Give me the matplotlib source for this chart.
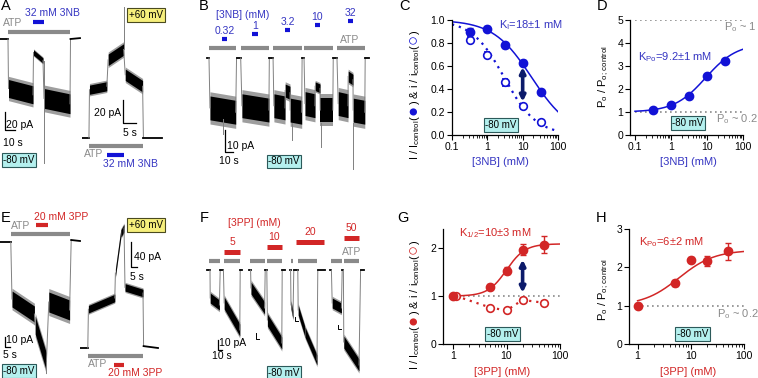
import numpy as np
import matplotlib
matplotlib.use('Agg')
import matplotlib.pyplot as plt
from matplotlib.ticker import FixedLocator, NullFormatter

plt.rcParams['font.family'] = ['Liberation Sans', 'DejaVu Sans']
plt.rcParams['mathtext.fontset'] = 'custom'
plt.rcParams['mathtext.rm'] = 'Liberation Sans'
plt.rcParams['mathtext.it'] = 'Liberation Sans:italic'
plt.rcParams['font.size'] = 7.5

W, H = 758, 378
BLUE = '#1212d6'
BLUE_TXT = '#3535c2'
RED = '#d22626'
GRAY = '#8a8a8a'
NAVY = '#0c1a6a'
CYAN_BOX = dict(boxstyle='square,pad=0.18', fc='#b4f0ee', ec='#2c5a5a', lw=0.8)
YEL_BOX = dict(boxstyle='square,pad=0.18', fc='#f6ef7c', ec='#4a4a20', lw=0.8)

# ---- trace data: (t start s, t end s, level start pA, level end pA, noise half width pA) ----
a1_segs = [(0, 8, 0, 0, 0), (8.5, 33, -55, -62, 10), (33.5, 43, -15, -24, 3),
           (44, 70, -66, -72, 11), (70.5, 80, 0, 1, 0)]
a1_spikes = [(43.5, -24, -138)]
a1_atp = (8, 70)
a1_drug = (33, 44)

a2_segs = [(0, 2.6, 0, 0, 0), (2.8, 9.3, 42, 45, 4), (9.8, 15.6, 68, 77, 5),
           (16.2, 22.7, 55, 45, 5), (23.0, 30, 0, 0, 0)]
a2_spikes = [(15.8, 77, 114)]
a2_atp = (2.6, 22.8)
a2_drug = (9.4, 15.7)

b_segs = [(2, 4.8, 0, 0, 0), (6, 37, -23, -25, 5.5), (38, 43, 0, 0, 0),
          (44.5, 77, -22, -24, 5.5), (77.5, 82, 0, 0, 0),
          (83, 96.4, -22, -23, 5.5), (96.6, 102.4, -15, -16, 3), (102.6, 116.5, -24, -25, 5.5),
          (117, 119.3, 0, 0, 0),
          (120.5, 132.5, -21, -22, 5.5), (132.7, 138.6, -13, -14, 2), (138.8, 154, -24, -24, 5.5),
          (154.5, 159, 0, 0, 0),
          (160.5, 172.3, -21, -22, 5.5), (172.5, 178.3, -8.5, -10, 2.5), (178.5, 192.5, -24, -25, 5.5),
          (193, 197, 0, 0, 0)]
b_spikes = [(21.7, -28, -35), (105, -30, -38), (140, -30, -41), (178.6, -30, -51)]
b_atp = [(4.8, 37.3), (43.4, 77.1), (81.9, 116.9), (119.3, 154.2), (159.0, 192.8)]
b_drug = [(20.5, 26.5), (56.6, 63.9), (96.4, 102.4), (132.5, 138.6), (172.3, 178.3)]
b_drug_y = [8.8, 11.1, 12.9, 15.2, 17.1]
b_labels = ['0.32', '1', '3.2', '10', '32']

e1_segs = [(0, 13.5, 0, 0, 0), (15, 43, -57, -72, 8), (44, 58, -83, -120, 9),
           (61, 87, -60, -68, 10), (89, 100, 2, 1, 0)]
e1_spikes = [(57.5, -120, -131)]
e1_atp = (13.8, 87.5)
e1_drug = (45, 60)

e2_segs = [(0, 6.5, 0, 0, 0), (7, 29, 62, 80, 6), (29.5, 34, 120, 183, 6),
           (34, 36.7, 183, 192, 6), (37.5, 52.5, 97, 88, 6), (53, 65, 3, 0, 0)]
e2_spikes = []
e2_atp = (6.7, 52.5)
e2_drug = (28.3, 36.7)

f_pieces = [
    [(5, 12.5, 0, 0, 0), (13, 36, -28, -35, 5), (38, 46, 0, 0, 0), (48, 87, -33, -60, 6), (88, 92, 0, 0, 0)],
    [(110, 114, 0, 0, 0), (115, 149, -18, -38, 6), (150.5, 154.5, 0, 0, 0), (156, 192, -50, -73, 6),
     (193, 200, 0, 0, 0)],
    [(212, 214, 0, 0, 0), (215, 220, -35, -45, 4), (222, 232, 0, 0, 0), (233, 250, -40, -62, 5),
     (250, 280, -62, -90, 5), (282, 300, 0, 0, 0)],
    [(312, 316, 0, 0, 0), (318, 341, -33, -38, 5), (343, 346, 0, 0, 0), (347, 385, -72, -95, 6),
     (389, 397, 0, 0, 0)],
]
f_atp = [(10, 37.5), (47.5, 87.5), (112.5, 150), (155, 192.5), (215, 220), (232.5, 280),
         (315, 342.5), (347.5, 385)]
f_drug = [(47.5, 87.5), (155, 192.5), (227.5, 297.5), (347.5, 385)]
f_drug_y = [18, 23, 28, 32]
f_labels = ['5', '10', '20', '50']
f_minis = [(127.5, -63, 6), (225, -47, 4), (332.5, -55, 4)]

# ---- dose-response data ----
nb_conc = [0.32, 1, 3.2, 10, 32]
c_I = [0.90, 0.925, 0.78, 0.63, 0.375]
c_I_err = [0.03, 0.02, 0.02, 0.02, 0.02]
c_i = [0.83, 0.70, 0.46, 0.25, 0.11]
c_i_err = [0.02, 0.02, 0.03, 0.02, 0.02]
c_KI, c_nI = 18.0, 0.8
c_Ki, c_ni = 3.0, 0.95

d_po = [1.08, 1.30, 1.68, 2.55, 3.22]
d_po_err = [0.05, 0.06, 0.07, 0.08, 0.10]
d_K, d_amp = 9.2, 2.98

pp_conc = [1, 5, 10, 20, 50]
pp_conc_open = [1.15, 5, 10, 20, 50]
g_I = [1.0, 1.2, 1.53, 1.97, 2.07]
g_I_err = [0.03, 0.06, 0.07, 0.12, 0.18]
g_i = [1.0, 0.76, 0.70, 0.92, 0.86]
g_i_err = [0.03, 0.04, 0.03, 0.04, 0.04]
g_K, g_n, g_amp = 10.0, 2.5, 1.09

h_po = [1.0, 1.6, 2.2, 2.17, 2.42]
h_po_err = [0.03, 0.08, 0.06, 0.13, 0.22]
h_K, h_n, h_amp = 6.0, 1.3, 1.45

fig = plt.figure(figsize=(W / 100, H / 100), dpi=100)


def ptext(x, y, s, **kw):
    kw.setdefault('ha', 'center')
    kw.setdefault('va', 'center')
    return fig.text(x / W, 1 - y / H, s, **kw)


def trace_axes(left, top, width, height, px_s, px_pa, base_py):
    ax = fig.add_axes([left / W, 1 - (top + height) / H, width / W, height / H])
    i_top = (base_py - top) / px_pa
    ax.set_xlim(0, width / px_s)
    ax.set_ylim(i_top - height / px_pa, i_top)
    ax.set_axis_off()
    return ax


def draw_trace(ax, segs, spikes=()):
    prev = None
    for t0, t1, l0, l1, hw in segs:
        if prev is not None:
            ax.plot([prev[0], t0], [prev[1], l0], color='0.5', lw=0.7)
        if hw > 0:
            ax.fill_between([t0, t1], [l0 - 1.35 * hw, l1 - 1.35 * hw], [l0 + 1.35 * hw, l1 + 1.35 * hw],
                            color='0.62', lw=0)
            ax.fill_between([t0, t1], [l0 - hw, l1 - hw], [l0 + hw, l1 + hw], color='k', lw=0)
        else:
            ax.plot([t0, t1], [l0, l1], color='k', lw=1.3)
        prev = (t1, l1)
    for t, a, b in spikes:
        ax.plot([t, t], [a, b], color='0.5', lw=0.7)


def app_bar(ax, t0, t1, y, color, lw=3):
    ax.plot([t0, t1], [y, y], color=color, lw=lw, solid_capstyle='butt', clip_on=False)


def scale_bar(ax, t, i, dt, di):
    ax.plot([t, t, t + dt], [i + di, i, i], color='k', lw=0.9, clip_on=False)


def vrich(x, yc, pieces, size=8):
    r = fig.canvas.get_renderer()
    objs = [fig.text(0, 0, s, color=c, fontsize=fs or size, rotation=90, rotation_mode='anchor',
                     ha='left', va='baseline') for s, c, fs in pieces]
    lens = [t.get_window_extent(r).height for t in objs]
    y = yc + sum(lens) / 2
    for t, L in zip(objs, lens):
        t.set_position((x / W, 1 - y / H))
        y -= L


def dose_axes(left, top, width, height, xlim, ylim, yticks, yfmt, xmaj):
    ax = fig.add_axes([left / W, 1 - (top + height) / H, width / W, height / H])
    ax.set_xscale('log')
    ax.set_xlim(*xlim)
    ax.set_ylim(*ylim)
    for s in ('top', 'right'):
        ax.spines[s].set_visible(False)
    for s in ('left', 'bottom'):
        ax.spines[s].set_linewidth(0.9)
    ax.set_yticks(yticks)
    ax.set_yticklabels([yfmt % v for v in yticks])
    ax.xaxis.set_major_locator(FixedLocator(xmaj))
    ax.set_xticklabels(['%g' % v for v in xmaj])
    minors = [m * d for d in xmaj[:-1] for m in range(2, 10)]
    ax.xaxis.set_minor_locator(FixedLocator(minors))
    ax.xaxis.set_minor_formatter(NullFormatter())
    ax.tick_params(direction='out', length=3.5, width=0.8, labelsize=7.5, pad=1.5)
    ax.tick_params(which='minor', length=2, width=0.6)
    ax.patch.set_alpha(0)
    return ax


# ================= A =================
ax = trace_axes(0, 25, 82, 145, 1.0, 0.9, 39)
draw_trace(ax, a1_segs, a1_spikes)
app_bar(ax, *a1_atp, 7.8, GRAY)
app_bar(ax, *a1_drug, 19, BLUE)
scale_bar(ax, 5, -101, 10, 20)
ax.text(6.5, -95, '20 pA', ha='left', va='center')
ax.text(3, -116, '10 s', ha='left', va='center')

ax = trace_axes(82, 0, 83, 170, 2.67, 1.15, 138)
draw_trace(ax, a2_segs, a2_spikes)
app_bar(ax, *a2_atp, -7, GRAY)
app_bar(ax, *a2_drug, -14.8, BLUE)
scale_bar(ax, 15.4, 13, 5, 20)
ax.text(14.6, 21.7, '20 pA', ha='right', va='center')
ax.text(15.4, 4.3, '5 s', ha='left', va='center')

ptext(1, 6, 'A', fontsize=10.5, ha='left')
ptext(13, 23, 'ATP', color=GRAY)
ptext(52, 13, '32 mM 3NB', color=BLUE_TXT)
ptext(19, 160, '-80 mV', fontsize=7, bbox=CYAN_BOX)
ptext(146, 15, '+60 mV', fontsize=7, bbox=YEL_BOX)
ptext(94, 154, 'ATP', color=GRAY)
ptext(130, 164, '32 mM 3NB', color=BLUE_TXT)

# ================= B =================
ax = trace_axes(205, 10, 165, 165, 0.83, 2.17, 58)
draw_trace(ax, b_segs, b_spikes)
for t0, t1 in b_atp:
    app_bar(ax, t0, t1, 4.6, GRAY)
for (t0, t1), y, lab in zip(b_drug, b_drug_y, b_labels):
    app_bar(ax, t0, t1, y, BLUE)
    ax.text((t0 + t1) / 2, y + 3.7, lab, color=BLUE_TXT, ha='center', va='center')
scale_bar(ax, 24.1, -43.3, 10, 10.1)
ax.text(26.5, -40.6, '10 pA', ha='left', va='center')
ax.text(16.9, -47.5, '10 s', ha='left', va='center')
ptext(204, 6, 'B', fontsize=10.5)
ptext(243, 15, '[3NB] (mM)', color=BLUE_TXT)
ptext(350, 40, 'ATP', color=GRAY)
ptext(284, 161.5, '-80 mV', fontsize=7, bbox=CYAN_BOX)

# ================= C =================
ax = dose_axes(452, 20, 106, 115, (0.1, 100), (0, 1.0), [0, 0.2, 0.4, 0.6, 0.8, 1.0], '%.1f',
               [0.1, 1, 10, 100])
xf = np.logspace(-1, 2, 200)
ax.plot(xf, 1 / (1 + (xf / c_KI) ** c_nI), color=BLUE, lw=1.1)
ax.plot(xf, 1 / (1 + (xf / c_Ki) ** c_ni), color=BLUE, lw=1.6, ls=(0, (1, 2.2)))
ax.errorbar(nb_conc, c_i, yerr=c_i_err, fmt='o', ms=5.5, mfc='white', mec=BLUE, mew=1.2,
            ecolor=BLUE, elinewidth=1, capsize=2.5, capthick=1, zorder=4)
ax.errorbar(nb_conc, c_I, yerr=c_I_err, fmt='o', ms=6, color=BLUE, elinewidth=1,
            capsize=2.5, capthick=1, zorder=5)
ax.annotate('', xy=(10, 0.29), xytext=(10, 0.59),
            arrowprops=dict(arrowstyle='<|-|>', color=NAVY, lw=2.6, mutation_scale=8,
                            shrinkA=0, shrinkB=0))
ptext(404, 6, 'C', fontsize=10.5)
ptext(531, 25, 'K$_\\mathrm{I}$=18±1 mM', color=BLUE_TXT, fontsize=8)
ptext(501, 125, '-80 mV', fontsize=7, bbox=CYAN_BOX)
ptext(500, 162, '[3NB] (mM)', color=BLUE_TXT, fontsize=8)
vrich(418, 95, [('I / I$_\\mathrm{control}$(', 'k', None), ('●', BLUE, 12),
                (') & i / i$_\\mathrm{control}$(', 'k', None), ('○', BLUE, 12), (')', 'k', None)])

# ================= D =================
ax = dose_axes(630, 20, 113, 115, (0.0726, 100), (0, 5), [0, 1, 2, 3, 4, 5], '%d',
               [0.1, 1, 10, 100])
ax.plot([0.1, 100], [5, 5], color=GRAY, lw=1.2, ls=(0, (1, 2)))
ax.plot([0.1, 100], [1, 1], color=GRAY, lw=1.2, ls=(0, (1, 2)))
ax.plot(xf, 1 + d_amp * xf / (xf + d_K), color=BLUE, lw=1.1)
ax.errorbar(nb_conc, d_po, yerr=d_po_err, fmt='o', ms=6, color=BLUE, elinewidth=1,
            capsize=2.5, capthick=1, zorder=5)
ptext(602, 6, 'D', fontsize=10.5)
ptext(675, 57, 'K$_\\mathrm{Po}$=9.2±1 mM', color=BLUE_TXT, fontsize=8)
ptext(740, 27, 'P$_\\mathrm{o}$ ~ 1', color=GRAY, fontsize=8)
ptext(737, 119, 'P$_\\mathrm{o}$ ~ 0.2', color=GRAY, fontsize=8)
ptext(688, 123, '-80 mV', fontsize=7, bbox=CYAN_BOX)
ptext(688, 162, '[3NB] (mM)', color=BLUE_TXT, fontsize=8)
vrich(606, 77, [('P$_\\mathrm{o}$ / P$_\\mathrm{o;\\,control}$', 'k', None)])

# ================= E =================
ax = trace_axes(0, 212, 82, 166, 0.8, 1.0, 242)
draw_trace(ax, e1_segs, e1_spikes)
app_bar(ax, *e1_atp, 8, GRAY)
app_bar(ax, *e1_drug, 17, RED)
scale_bar(ax, 6.25, -105, 6.25, 10)
ax.text(7.5, -98, '10 pA', ha='left', va='center')
ax.text(3.75, -113, '5 s', ha='left', va='center')

ax = trace_axes(80, 212, 83, 166, 1.2, 0.625, 348)
draw_trace(ax, e2_segs, e2_spikes)
app_bar(ax, *e2_atp, -12.8, GRAY)
app_bar(ax, *e2_drug, -27, RED)
scale_bar(ax, 42.5, 129.6, 5, 40)
ax.text(45, 145.6, '40 pA', ha='left', va='center')
ax.text(41.7, 113.6, '5 s', ha='left', va='center')

ptext(1, 218, 'E', fontsize=10.5, ha='left')
ptext(21, 226, 'ATP', color=GRAY)
ptext(61, 217, '20 mM 3PP', color=RED)
ptext(19, 371, '-80 mV', fontsize=7, bbox=CYAN_BOX)
ptext(146, 225, '+60 mV', fontsize=7, bbox=YEL_BOX)
ptext(97.5, 364, 'ATP', color=GRAY)
ptext(135.5, 373, '20 mM 3PP', color=RED)

# ================= F =================
ax = trace_axes(205, 212, 165, 166, 0.4, 1.0, 270)
for piece in f_pieces:
    draw_trace(ax, piece)
for t0, t1 in f_atp:
    app_bar(ax, t0, t1, 9, GRAY)
for (t0, t1), y, lab in zip(f_drug, f_drug_y, f_labels):
    app_bar(ax, t0, t1, y, RED, lw=3.6)
    ax.text((t0 + t1) / 2, y + 10, lab, color=RED, ha='center', va='center')
for t, i, d in f_minis:
    ax.plot([t, t, t + 7], [i, i - d, i - d], color='k', lw=0.7)
scale_bar(ax, 33.3, -80, 10, 10)
ax.text(36, -73.5, '10 pA', ha='left', va='center')
ax.text(16.7, -86, '10 s', ha='left', va='center')
ptext(204, 218, 'F', fontsize=10.5)
ptext(254, 223, '[3PP] (mM)', color=RED)
ptext(352, 252, 'ATP', color=GRAY)
ptext(284, 372.5, '-80 mV', fontsize=7, bbox=CYAN_BOX)

# ================= G =================
ax = dose_axes(443, 229, 117, 115, (0.65, 100), (0, 2.4), [0, 1, 2], '%d', [1, 10, 100])
xg = np.logspace(0, 2, 200)
ax.plot([1.25, 100], [1, 1], color=GRAY, lw=1.2, ls=(0, (1, 2)))
ax.plot(xg, 1 + g_amp * xg ** g_n / (xg ** g_n + g_K ** g_n), color=RED, lw=1.1)
ax.plot(pp_conc_open, g_i, color=RED, lw=1.6, ls=(0, (1, 2.2)))
ax.errorbar(pp_conc_open, g_i, yerr=g_i_err, fmt='o', ms=5.5, mfc='white', mec=RED, mew=1.2,
            ecolor=RED, elinewidth=1, capsize=2.5, capthick=1, zorder=4)
ax.errorbar(pp_conc, g_I, yerr=g_I_err, fmt='o', ms=6, color=RED, elinewidth=1,
            capsize=2.5, capthick=1, zorder=5)
ax.annotate('', xy=(20, 1.07), xytext=(20, 1.76),
            arrowprops=dict(arrowstyle='<|-|>', color=NAVY, lw=2.6, mutation_scale=8,
                            shrinkA=0, shrinkB=0))
ptext(403, 218, 'G', fontsize=10.5)
ptext(495, 233, 'K$_{1/2}$=10±3 mM', color=RED, fontsize=8)
ptext(502.5, 334, '-80 mV', fontsize=7, bbox=CYAN_BOX)
ptext(502, 372, '[3PP] (mM)', color=RED, fontsize=8)
vrich(418, 305, [('I / I$_\\mathrm{control}$(', 'k', None), ('●', RED, 12),
                 (') & i / i$_\\mathrm{control}$(', 'k', None), ('○', RED, 12), (')', 'k', None)])

# ================= H =================
ax = dose_axes(629, 229, 115, 115, (0.69, 100), (0, 3), [0, 1, 2, 3], '%d', [1, 10, 100])
ax.plot([1.2, 100], [1, 1], color=GRAY, lw=1.2, ls=(0, (1, 2)))
ax.plot(xg, 1 + h_amp * xg ** h_n / (xg ** h_n + h_K ** h_n), color=RED, lw=1.1)
ax.errorbar(pp_conc, h_po, yerr=h_po_err, fmt='o', ms=6, color=RED, elinewidth=1,
            capsize=2.5, capthick=1, zorder=5)
ptext(601, 218, 'H', fontsize=10.5)
ptext(671, 242, 'K$_\\mathrm{Po}$=6±2 mM', color=RED, fontsize=8)
ptext(738, 314, 'P$_\\mathrm{o}$ ~ 0.2', color=GRAY, fontsize=8)
ptext(692.5, 334, '-80 mV', fontsize=7, bbox=CYAN_BOX)
ptext(688, 372, '[3PP] (mM)', color=RED, fontsize=8)
vrich(606, 290, [('P$_\\mathrm{o}$ / P$_\\mathrm{o;\\,control}$', 'k', None)])

fig.savefig('out.png', dpi=100)
